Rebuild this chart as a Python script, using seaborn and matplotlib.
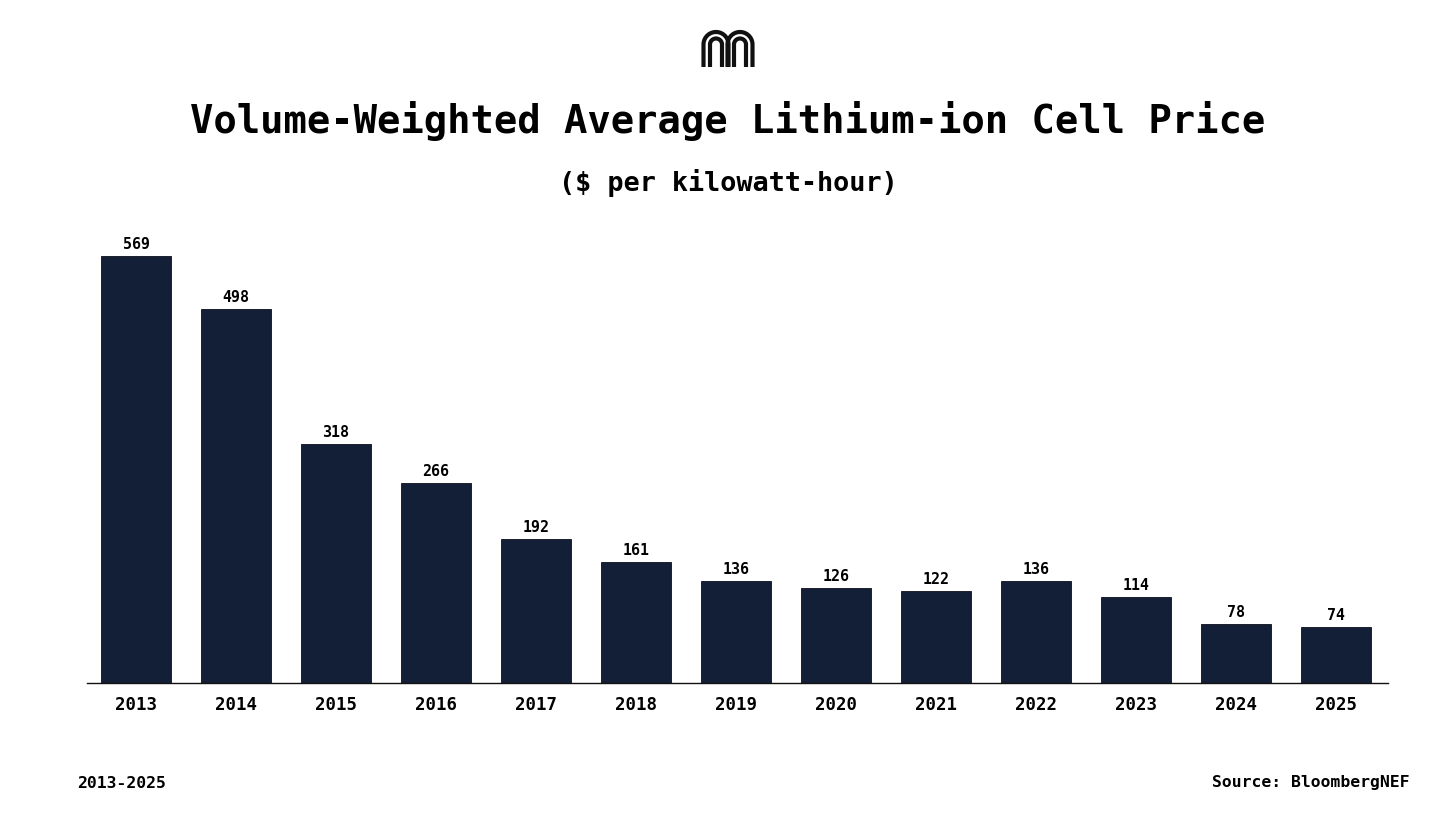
import numpy as np
import pandas as pd
import seaborn as sns
import matplotlib.pyplot as plt
from matplotlib.lines import Line2D

# Data
years = ["2013", "2014", "2015", "2016", "2017", "2018", "2019",
         "2020", "2021", "2022", "2023", "2024", "2025"]
prices = [569, 498, 318, 266, 192, 161, 136, 126, 122, 136, 114, 78, 74]

title = "Volume-Weighted Average Lithium-ion Cell Price"
subtitle = "($ per kilowatt-hour)"
period_note = "2013-2025"
source_note = "Source: BloombergNEF"

df = pd.DataFrame({"year": years, "price": prices})

sns.set_style("white")
plt.rcParams["font.family"] = ["DejaVu Sans Mono", "DejaVu Sans"]
plt.rcParams["font.weight"] = "bold"

W, H = 1456, 819
fig = plt.figure(figsize=(W / 100, H / 100), dpi=100)
ax = fig.add_axes([87 / W, 1 - 683 / H, (1388 - 87) / W, (683 - 230) / H])

bar_color = "#121F37"
sns.barplot(data=df, x="year", y="price", color=bar_color, width=0.7,
            edgecolor="#0a0f1a", linewidth=0.6, saturation=1, ax=ax)

ax.set_xlim(-0.49, 12.52)
ax.set_ylim(0, 603.7)

for cont in ax.containers:
    ax.bar_label(cont, labels=[str(v) for v in prices], padding=3,
                 fontsize=10.8, fontweight="bold", color="#000000")

ax.set_xlabel("")
ax.set_ylabel("")
ax.set_yticks([])
ax.tick_params(axis="x", length=0, pad=9, labelsize=12.5,
               labelcolor="#000000")
for lab in ax.get_xticklabels():
    lab.set_fontweight("bold")
for s in ["top", "left", "right"]:
    ax.spines[s].set_visible(False)
ax.spines["bottom"].set_color("#111111")
ax.spines["bottom"].set_linewidth(1.0)

fig.text(0.5, 1 - 121 / H, title, ha="center", va="center",
         fontsize=28, fontweight="bold", color="#000000")
fig.text(0.5, 1 - 183 / H, subtitle, ha="center", va="center",
         fontsize=19.4, fontweight="bold", color="#000000")
fig.text(77 / W, 1 - 783 / H, period_note, ha="left", va="center",
         fontsize=11.8, fontweight="bold", color="#000000")
fig.text(1410 / W, 1 - 783 / H, source_note, ha="right", va="center",
         fontsize=11.8, fontweight="bold", color="#000000")

# small arch logo at the top
def arch(cx, r, top=31, bottom=67):
    cy = top + r
    t = np.linspace(np.pi, 0, 60)
    xs = np.concatenate([[cx - r], cx + r * np.cos(t), [cx + r]])
    ys = np.concatenate([[bottom], cy - r * np.sin(t), [bottom]])
    fig.add_artist(Line2D(xs / W, 1 - ys / H, transform=fig.transFigure,
                          color="#111111", linewidth=3.0,
                          solid_capstyle="butt"))

for cx in (716, 740):
    arch(cx, 12.5, top=32)
    arch(cx, 6.0, top=38.5)

fig.savefig("out.png", dpi=100, facecolor="white")
